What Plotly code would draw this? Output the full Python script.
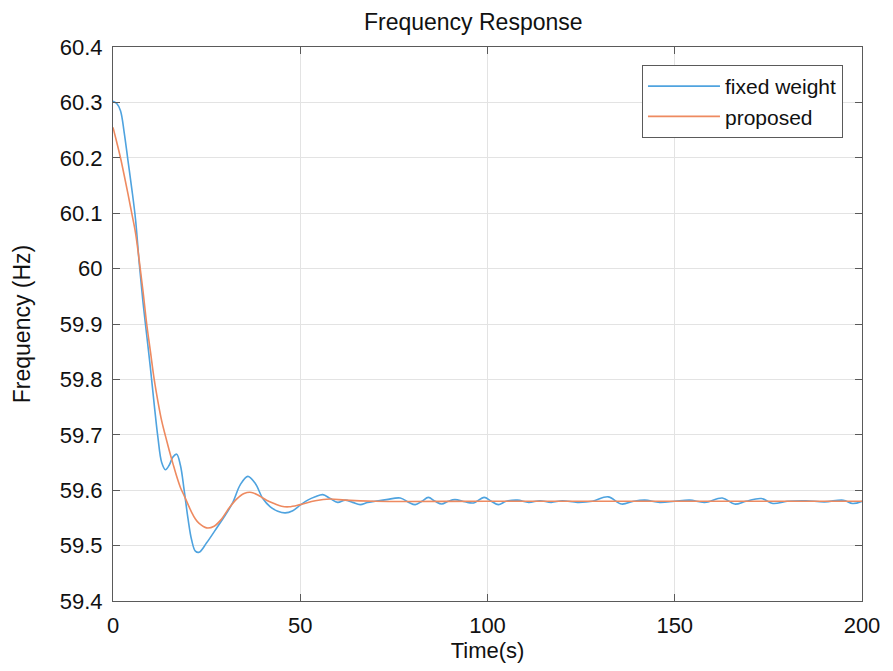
import plotly.graph_objects as go

# Time (s) and frequency (Hz)
t_fixed = [0, 1, 2, 3, 4, 5, 6, 7, 8, 9, 10, 11, 12, 13, 14, 15, 16, 17, 18, 19, 20,
           21, 22, 23, 25, 28, 30, 32, 34, 36, 38, 40, 42, 44, 46, 48, 50, 52, 54, 56,
           58, 60, 62, 64, 66, 68, 70, 73, 76.7, 79, 80.7, 82.5, 84.2, 86, 87.8, 89.5,
           91.3, 94, 96.3, 99.1, 101, 102.9, 105, 108, 111, 114, 117, 120, 124, 128,
           132.2, 135.8, 139, 142, 146, 150, 154, 158, 162.7, 166, 169, 173.1, 176.2,
           180, 185, 190, 195, 197.5, 200]
f_fixed = [60.302, 60.298, 60.285, 60.245, 60.195, 60.145, 60.090, 60.010, 59.940, 59.880,
           59.820, 59.755, 59.695, 59.650, 59.637, 59.645, 59.660, 59.665, 59.645, 59.600,
           59.550, 59.510, 59.490, 59.488, 59.505, 59.535, 59.555, 59.578, 59.610, 59.625,
           59.612, 59.585, 59.570, 59.562, 59.559, 59.563, 59.573, 59.582, 59.588, 59.592,
           59.585, 59.578, 59.582, 59.578, 59.574, 59.578, 59.580, 59.583, 59.586, 59.578,
           59.574, 59.580, 59.587, 59.580, 59.575, 59.580, 59.583, 59.579, 59.577, 59.587,
           59.580, 59.574, 59.580, 59.582, 59.578, 59.581, 59.578, 59.581, 59.578, 59.580,
           59.588, 59.575, 59.580, 59.582, 59.578, 59.580, 59.582, 59.578, 59.586, 59.575,
           59.580, 59.585, 59.576, 59.580, 59.581, 59.579, 59.582, 59.576, 59.580]

t_prop = [0, 1, 2, 3, 4, 5, 6, 7, 8, 9, 10, 11, 12, 13, 14, 15, 16, 17, 18, 19, 20,
          21, 22, 23, 25, 27, 29, 31, 33, 35, 37, 39, 41, 43, 45, 47, 50, 54, 58, 62,
          70, 100, 150, 200]
f_prop = [60.255, 60.228, 60.200, 60.168, 60.135, 60.100, 60.065, 60.015, 59.960, 59.900,
          59.850, 59.800, 59.760, 59.725, 59.698, 59.672, 59.648, 59.625, 59.605, 59.590,
          59.575, 59.560, 59.548, 59.540, 59.532, 59.535, 59.548, 59.568, 59.584, 59.594,
          59.596, 59.590, 59.582, 59.576, 59.571, 59.570, 59.574, 59.581, 59.584, 59.582,
          59.580, 59.580, 59.580, 59.580]

x_ticks = [0, 50, 100, 150, 200]
y_ticks = [59.4, 59.5, 59.6, 59.7, 59.8, 59.9, 60.0, 60.1, 60.2, 60.3, 60.4]
y_labels = ["59.4", "59.5", "59.6", "59.7", "59.8", "59.9", "60", "60.1", "60.2", "60.3", "60.4"]

FONT = "Liberation Sans, Arial, Helvetica, sans-serif"

fig = go.Figure()
fig.add_trace(go.Scatter(x=t_fixed, y=f_fixed, mode="lines", name="fixed weight",
                         line=dict(color="#4FA3DF", width=1.6, shape="spline", smoothing=1.0)))
fig.add_trace(go.Scatter(x=t_prop, y=f_prop, mode="lines", name="proposed",
                         line=dict(color="#EE8A60", width=1.6, shape="spline", smoothing=1.0)))

axis_common = dict(showline=True, linecolor="#5A5A5A", linewidth=1.2, mirror="ticks",
                   ticks="inside", ticklen=7, tickcolor="#5A5A5A", showgrid=True,
                   gridcolor="#E3E3E3", gridwidth=1, zeroline=False,
                   tickfont=dict(family=FONT, size=22, color="#111111"))

fig.update_layout(
    width=885, height=663,
    margin=dict(l=105, r=31, t=39, b=68),
    paper_bgcolor="white", plot_bgcolor="white",
    font=dict(family=FONT, color="#111111"),
    title=dict(text="Frequency Response", x=0.481, xref="paper", xanchor="center",
               y=0.979, yref="container", yanchor="middle",
               font=dict(family=FONT, size=23, color="#111111")),
    xaxis=dict(range=[0, 200], tickvals=x_ticks, ticklabelstandoff=4,
               title=dict(text="Time(s)", font=dict(family=FONT, size=22), standoff=6),
               **axis_common),
    yaxis=dict(range=[59.4, 60.4], tickvals=y_ticks, ticktext=y_labels, ticklabelstandoff=5,
               title=dict(text="Frequency (Hz)", font=dict(family=FONT, size=23), standoff=22),
               **axis_common),
    legend=dict(x=0.9746, y=0.9676, xanchor="right", yanchor="top",
                bgcolor="white", bordercolor="#5A5A5A", borderwidth=1,
                font=dict(family=FONT, size=21, color="#111111"),
                tracegroupgap=0, itemwidth=72),
    showlegend=True,
)

fig.write_html("out.html")
